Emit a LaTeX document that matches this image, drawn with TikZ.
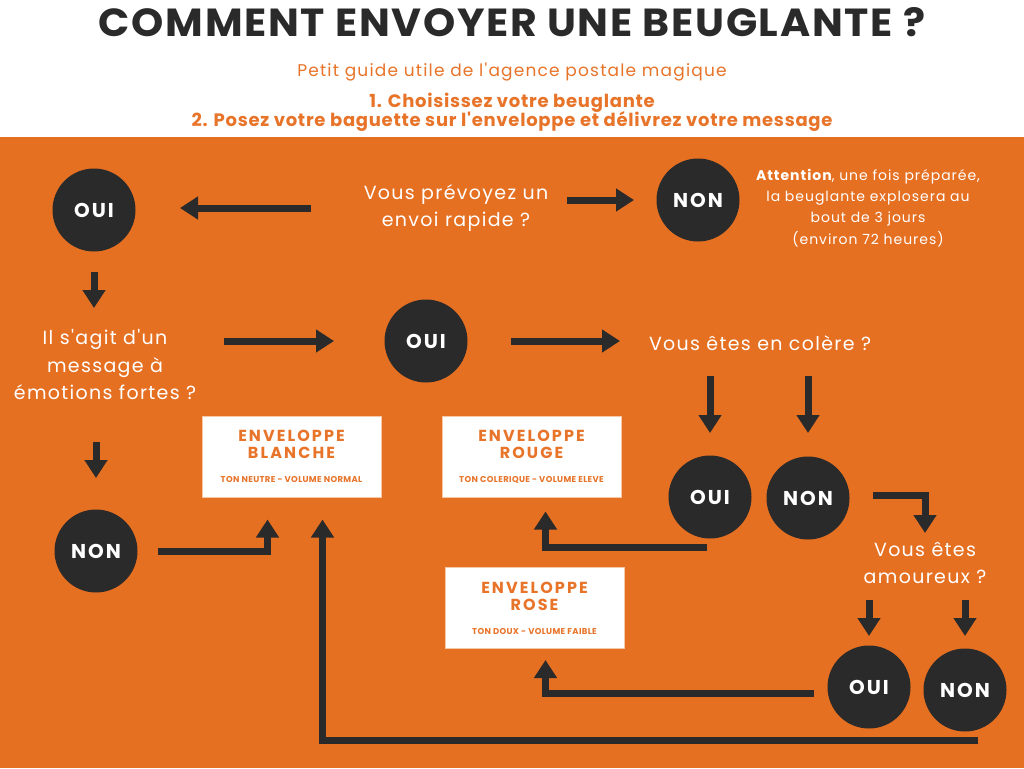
\documentclass[tikz,border=0pt]{standalone}
\usepackage{graphicx}
\usepackage{fontspec}
\setmainfont{Poppins}
\newfontfamily\titrefont{Poppins}[LetterSpace=4]
\newfontfamily\textefont{Poppins}[LetterSpace=7]
\newfontfamily\etapefont{Poppins}[LetterSpace=4]
\newfontfamily\bullefont{Poppins}[LetterSpace=10]
\newfontfamily\envfont{Poppins}[LetterSpace=13]
\newfontfamily\tonfont{Poppins}[LetterSpace=4]
\usetikzlibrary{arrows.meta, calc}
\definecolor{orangeposte}{RGB}{229,112,34}
\definecolor{orangetexte}{RGB}{232,116,42}
\definecolor{sombre}{RGB}{42,42,42}
\definecolor{bordenv}{RGB}{246,200,165}
\newcommand{\envsous}{\tonfont\bfseries\fontsize{8.5}{10}\selectfont}

\tikzset{
  bulle/.style={circle, fill=sombre, minimum size=83pt, inner sep=0pt, text=white,
    font=\bullefont\bfseries\fontsize{20}{20}\selectfont},
  question/.style={align=center, text=white, inner sep=0pt,
    font=\textefont\fontsize{19}{27.5}\selectfont},
  enveloppe/.style={fill=white, draw=bordenv, line width=1pt, minimum width=179pt,
    minimum height=81pt, inner sep=0pt, align=center, text=orangetexte,
    font=\envfont\bfseries\fontsize{16}{17}\selectfont},
  fleche/.style={draw=sombre, line width=7pt, -{Triangle[width=22pt,length=18pt]}}
}

\begin{document}
\begin{tikzpicture}[x=1pt, y=-1pt]
  \useasboundingbox (0,0) rectangle (1024,768);
  % Fond
  \fill[white] (0,0) rectangle (1024,768);
  \fill[orangeposte] (0,137) rectangle (1024,768);

  % En-tete
  \node[inner sep=0pt, text=sombre] (titre) at (512,22.5)
    {\resizebox{826pt}{29pt}{\titrefont\bfseries COMMENT ENVOYER UNE BEUGLANTE ?}};
  \node[anchor=base, inner sep=0pt, text=orangetexte, font=\textefont\fontsize{17}{20}\selectfont]
    (guide) at (512,77) {Petit guide utile de l'agence postale magique};
  \node[anchor=base, inner sep=0pt, text=orangetexte, font=\etapefont\bfseries\fontsize{18}{20}\selectfont]
    (etape1) at (512,107) {1. Choisissez votre beuglante};
  \node[anchor=base, inner sep=0pt, text=orangetexte, font=\etapefont\bfseries\fontsize{18}{20}\selectfont]
    (etape2) at (512,126) {2. Posez votre baguette sur l'enveloppe et délivrez votre message};

  % Questions
  \node[question] (q1) at (456,208) {Vous prévoyez un\\envoi rapide ?};
  \node[question] (q2) at (105,365) {Il s'agit d'un\\message à\\émotions fortes ?};
  \node[question] (q3) at (760,343) {Vous êtes en colère ?};
  \node[question] (q4) at (925,563) {Vous êtes\\amoureux ?};
  \node[question, font=\textefont\fontsize{14}{21.3}\selectfont] (note) at (868,208)
    {\textbf{Attention}, une fois préparée,\\la beuglante explosera au\\bout de 3 jours\\(environ 72 heures)};

  % Reponses
  \node[bulle] (oui1) at (94,210) {OUI};
  \node[bulle] (non1) at (698,200) {NON};
  \node[bulle] (oui2) at (426,341) {OUI};
  \node[bulle] (oui3) at (710,497) {OUI};
  \node[bulle] (non3) at (808,498) {NON};
  \node[bulle] (non2) at (96,551) {NON};
  \node[bulle] (oui4) at (869,687) {OUI};
  \node[bulle] (non4) at (965,690) {NON};

  % Enveloppes
  \node[enveloppe] (blanche) at (291.5,456.5)
    {ENVELOPPE\\BLANCHE\\[7pt]\envsous TON NEUTRE - VOLUME NORMAL};
  \node[enveloppe] (rouge) at (531.5,456.5)
    {ENVELOPPE\\ROUGE\\[7pt]\envsous TON COLERIQUE - VOLUME ELEVE};
  \node[enveloppe] (rose) at (534.5,608)
    {ENVELOPPE\\ROSE\\[7pt]\envsous TON DOUX - VOLUME FAIBLE};

  % Fleches
  \draw[fleche, shorten <=145pt, shorten >=86pt] (q1.center) -- (q1.center -| oui1.center);
  \draw[fleche, shorten <=111pt, shorten >=64pt] (non1.center -| q1.center) -- (non1.center);
  \draw[fleche, shorten <=62pt, shorten >=57pt] (oui1.center) -- (oui1.center |- q2.center);
  \draw[fleche, shorten <=119pt, shorten >=92pt] (q2.center |- oui2.center) -- (oui2.center);
  \draw[fleche, shorten <=85pt, shorten >=140pt] (oui2.center) -- (oui2.center -| q3.center);
  \draw[fleche, shorten <=33pt, shorten >=64pt] (q3.center -| oui3.center) -- (oui3.center);
  \draw[fleche, shorten <=33pt, shorten >=65pt] (q3.center -| non3.center) -- (non3.center);
  \draw[fleche, shorten <=77pt, shorten >=73pt] (q2.center -| non2.center) -- (non2.center);
  \draw[fleche, shorten <=62pt, shorten >=22pt] (non2.center) -| ($(blanche.south west)+(66,0)$);
  \draw[fleche, shorten >=14pt] ($(oui3.center)+(-3,50)$) -| ($(rouge.south west)+(104,0)$);
  \draw[fleche, shorten >=30pt] ($(non3.center)+(65,-3)$) -| (q4.center);
  \draw[fleche, shorten <=37pt, shorten >=51pt] (q4.center -| oui4.center) -- (oui4.center);
  \draw[fleche, shorten <=37pt, shorten >=54pt] (q4.center -| non4.center) -- (non4.center);
  \draw[fleche, shorten >=11pt] ($(oui4.center)+(-55,6)$) -| ($(rose.south west)+(101,0)$);
  \draw[fleche, shorten >=22pt] ($(non4.center)+(13,50)$) -| ($(blanche.south west)+(121,0)$);
\end{tikzpicture}
\end{document}
